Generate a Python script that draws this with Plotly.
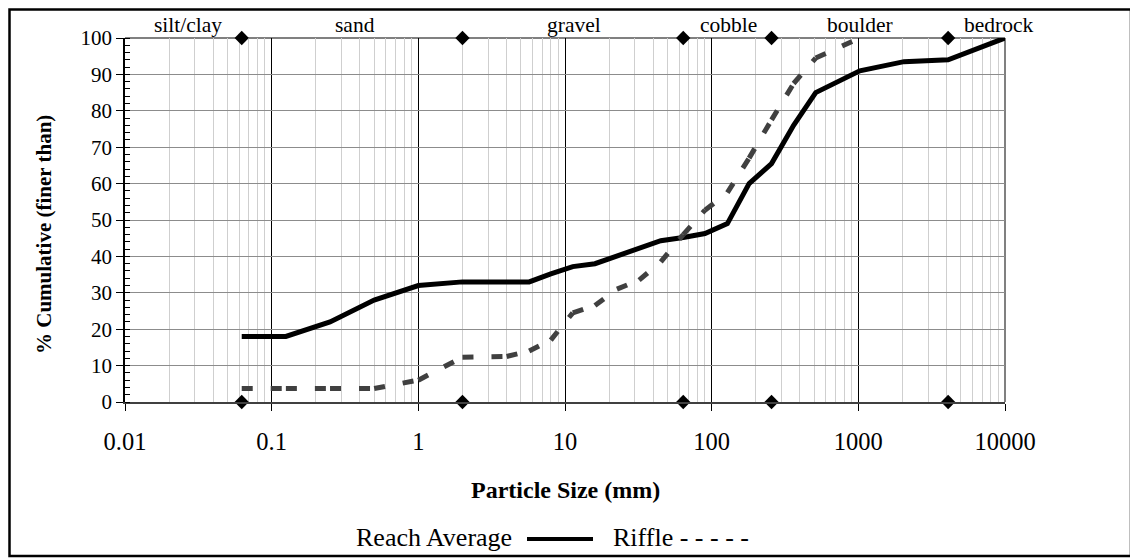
import numpy as np
import plotly.graph_objects as go

# ---------------- data ----------------
reach_sizes = [0.0625, 0.125, 0.25, 0.5, 1, 2, 4, 5.7, 8, 11.3, 16, 22.6, 32, 45, 64, 90,
               128, 180, 256, 362, 512, 1024, 2048, 4096, 10000]
reach_pct = [18, 18, 22, 28, 32, 33, 33, 33, 35.2, 37.2, 38, 40, 42, 44.3, 45.2, 46.3,
             49, 60, 65.5, 76, 85, 91, 93.5, 94, 100]

riffle_sizes = [0.0625, 0.125, 0.25, 0.5, 1, 2, 4, 5.7, 8, 11.3, 16, 22.6, 32, 45, 64, 90,
                128, 180, 256, 362, 512, 1024]
riffle_pct = [3.7, 3.7, 3.7, 3.7, 6, 12.3, 12.5, 14, 17, 24.5, 26.5, 31, 33.5, 38.5, 46, 52.7,
              57.5, 67, 77.5, 87.5, 94.5, 100]

class_bounds = [0.0625, 2, 64, 256, 4096]
class_names = ["silt/clay", "sand", "gravel", "cobble", "boulder", "bedrock"]
class_label_pos = [0.027, 0.37, 11.6, 131, 1026, 9100]

x_tick_vals = [0.01, 0.1, 1, 10, 100, 1000, 10000]
x_tick_text = ["0.01", "0.1", "1", "10", "100", "1000", "10000"]
y_tick_vals = [0, 10, 20, 30, 40, 50, 60, 70, 80, 90, 100]

x_minor_vals = [m * 10.0 ** k for k in range(-2, 4) for m in range(2, 10)]

FONT = "Liberation Serif"

# The page body has an 8px margin, so the figure is sized to fit the window.
OFF = 8
W, H = 1138 - OFF, 560 - OFF
ML, MT = 125 - OFF, 38 - OFF
MR = W - (1005 - OFF)
MB = H - (402 - OFF)
PW, PH = W - ML - MR, H - MT - MB


def px_x(px):
    """screen pixel x -> paper coordinate"""
    return (px - OFF - ML) / PW


def px_y(py):
    """screen pixel y -> paper coordinate"""
    return (H - MB - (py - OFF)) / PH


fig = go.Figure()

# Reach average (solid)
fig.add_trace(go.Scatter(
    x=reach_sizes, y=reach_pct, mode="lines",
    line=dict(color="black", width=5),
    cliponaxis=False, showlegend=False, name="Reach Average"))

# Riffle (dashed; pattern restarts at every vertex as in the original)
for i in range(len(riffle_sizes) - 1):
    fig.add_trace(go.Scatter(
        x=riffle_sizes[i:i + 2], y=riffle_pct[i:i + 2], mode="lines",
        line=dict(color="#404040", width=5, dash="11px,18px"),
        cliponaxis=False, showlegend=False, name="Riffle"))

# class boundary diamonds at bottom and top
fig.add_trace(go.Scatter(
    x=class_bounds + class_bounds,
    y=[0] * len(class_bounds) + [100] * len(class_bounds),
    mode="markers",
    marker=dict(symbol="diamond", size=11, color="black"),
    cliponaxis=False, showlegend=False))

annotations = []
for name, pos in zip(class_names, class_label_pos):
    annotations.append(dict(
        x=np.log10(pos), xref="x", y=px_y(25), yref="paper",
        text=name, showarrow=False, xanchor="center", yanchor="middle",
        font=dict(family=FONT, size=21.5, color="black")))

# axis titles
annotations.append(dict(
    x=px_x(44), y=px_y(235), xref="paper", yref="paper",
    text="<b>% Cumulative (finer than)</b>", textangle=-90, showarrow=False,
    xanchor="center", yanchor="middle",
    font=dict(family=FONT, size=21, color="black")))
annotations.append(dict(
    x=px_x(565), y=px_y(490), xref="paper", yref="paper",
    text="<b>Particle Size (mm)</b>", showarrow=False,
    xanchor="center", yanchor="middle",
    font=dict(family=FONT, size=24, color="black")))

# legend (text before symbol, as in the original)
annotations.append(dict(
    x=px_x(514), y=px_y(537), xref="paper", yref="paper",
    text="Reach Average", showarrow=False, xanchor="right", yanchor="middle",
    font=dict(family=FONT, size=26, color="black")))
annotations.append(dict(
    x=px_x(611), y=px_y(537), xref="paper", yref="paper",
    text="Riffle - - - - -", showarrow=False, xanchor="left", yanchor="middle",
    font=dict(family=FONT, size=26, color="black")))

shapes = [
    # legend line sample
    dict(type="line", xref="paper", yref="paper",
         x0=px_x(527), x1=px_x(593), y0=px_y(539), y1=px_y(539),
         line=dict(color="black", width=4)),
    # gray plot border (top and right)
    dict(type="line", xref="paper", yref="paper", x0=0, x1=1, y0=1, y1=1,
         line=dict(color="#808080", width=2), layer="between"),
    dict(type="line", xref="paper", yref="paper", x0=1, x1=1, y0=0, y1=1,
         line=dict(color="#808080", width=2), layer="between"),
    # outer chart frame
    dict(type="rect", xref="paper", yref="paper",
         x0=px_x(OFF + 1.5), x1=px_x(1131), y0=px_y(556), y1=px_y(OFF + 1.5),
         line=dict(color="black", width=2.5), fillcolor="rgba(0,0,0,0)"),
]

fig.update_layout(
    width=W, height=H,
    margin=dict(l=ML, r=MR, t=MT, b=MB, pad=0),
    paper_bgcolor="white", plot_bgcolor="white",
    font=dict(family=FONT, color="black"),
    annotations=annotations, shapes=shapes,
    xaxis=dict(
        type="log", range=[-2, 4],
        tickmode="array", tickvals=x_tick_vals, ticktext=x_tick_text,
        ticks="outside", ticklen=7, tickcolor="black", tickwidth=1,
        ticklabelstandoff=10,
        tickfont=dict(family=FONT, size=24.5, color="black"),
        showgrid=True, gridcolor="black", gridwidth=1,
        showline=True, linecolor="#404040", linewidth=2,
        zeroline=False,
        minor=dict(tickmode="array", tickvals=x_minor_vals, showgrid=True,
                   gridcolor="#cfcfcf", gridwidth=1, ticks=""),
    ),
    yaxis=dict(
        range=[0, 100],
        tickmode="array", tickvals=y_tick_vals,
        ticks="outside", ticklen=7, tickcolor="black", tickwidth=1,
        tickfont=dict(family=FONT, size=21, color="black"),
        showgrid=True, gridcolor="#8c8c8c", gridwidth=1,
        showline=True, linecolor="black", linewidth=1.5,
        zeroline=False,
        minor=dict(dtick=2, ticks="inside", ticklen=5, tickcolor="black",
                   tickwidth=1, showgrid=False),
    ),
)

fig.write_html("out.html")
